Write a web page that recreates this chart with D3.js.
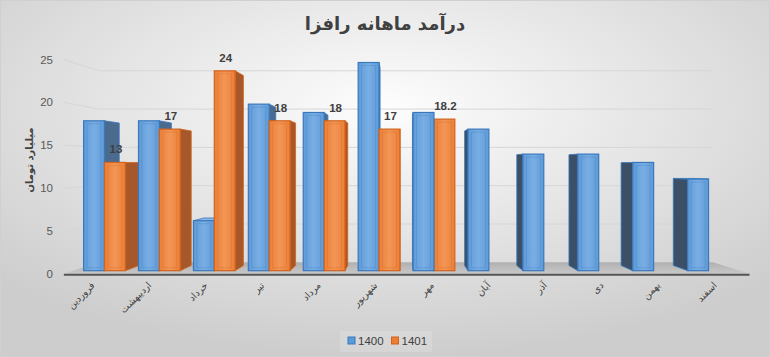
<!DOCTYPE html>
<html><head><meta charset="utf-8">
<script src="https://cdn.jsdelivr.net/npm/d3@7/dist/d3.min.js"></script>
<style>html,body{margin:0;padding:0;background:#fff}svg{display:block}</style>
</head><body>
<svg id="c" width="770" height="357"></svg>
<script>
const months = ["فروردین","اردیبهشت","خرداد","تیر","مرداد","شهریور","مهر","آبان","آذر","دی","بهمن","اسفند"];
const series = ["1400","1401"];
const values1400 = [18,18,6,20,19,25,19,17,14,14,13,11];
const values1401 = [13,17,24,18,18,17,18.2,null,null,null,null,null];
const yTicks = [0,5,10,15,20,25];
const title = "درآمد ماهانه رافزا";
const yTitle = "میلیارد تومان";

const W=770,H=357;
const svg=d3.select("#c");
const defs=svg.append("defs");
const rg=defs.append("radialGradient").attr("id","bg").attr("cx","50%").attr("cy","30%").attr("r","70%");
rg.append("stop").attr("offset","0%").attr("stop-color","#fdfdfd");
rg.append("stop").attr("offset","100%").attr("stop-color","#cdcdcd");
function lg(id,c1,c2){const g=defs.append("linearGradient").attr("id",id).attr("x1","0").attr("x2","1").attr("y1","0").attr("y2","0");
 g.append("stop").attr("offset","0%").attr("stop-color",c1);g.append("stop").attr("offset","50%").attr("stop-color",c2);g.append("stop").attr("offset","100%").attr("stop-color",c1);}
lg("gb","#5f9bd8","#79aee4");
lg("go","#ec7f37","#f29656");
const fl=defs.append("linearGradient").attr("id","fl").attr("x1","0").attr("x2","0").attr("y1","0").attr("y2","1");
fl.append("stop").attr("offset","0%").attr("stop-color","#b0b0b0");fl.append("stop").attr("offset","100%").attr("stop-color","#c8c8c8");

svg.append("rect").attr("x",0.5).attr("y",0.5).attr("width",W-1).attr("height",H-1).attr("fill","url(#bg)").attr("stroke","#d0d0d0");

// scales (front plane of bars)
const x=d3.scaleBand().domain(months).range([77,736]).paddingInner(0.24).paddingOuter(0.12);
const xs=d3.scaleBand().domain(series).range([0,x.bandwidth()]);
const y=d3.scaleLinear().domain([0,25]).range([270.7,62.5]);
const VX=400,VY=166;
const P=(px,py,s)=>[VX+(px-VX)*s,VY+(py-VY)*s];
const S_FRONT=1.028,S_BACK=0.92,S_BAR=0.95;
const XL=73,XR=740;

// floor
const f=[P(XL,y(0),S_BACK),P(XR,y(0),S_BACK),P(XR,y(0),S_FRONT),P(XL,y(0),S_FRONT)];
svg.append("polygon").attr("points",f.map(p=>p.join(",")).join(" ")).attr("fill","url(#fl)");
svg.append("line").attr("x1",f[3][0]).attr("x2",f[2][0]).attr("y1",f[3][1]+1).attr("y2",f[2][1]+1).attr("stroke","#555").attr("stroke-width",2);

// gridlines
const grid=svg.append("g");
yTicks.filter(t=>t>0).forEach(t=>{
  const a=P(XL,y(t),S_FRONT),b=P(XL,y(t),S_BACK),c=P(XR,y(t),S_BACK);
  grid.append("polyline").attr("points",[a,b,c].map(p=>p.join(",")).join(" ")).attr("fill","none").attr("stroke","#d6d6d6").attr("stroke-width",1);
});
// tick labels
svg.append("g").selectAll("text").data(yTicks).join("text")
 .attr("x",53).attr("y",t=>P(XL,y(t),S_FRONT)[1]).attr("dy","0.35em").attr("text-anchor","end")
 .attr("font-family","Liberation Sans, Arial, sans-serif").attr("font-size",11.5).attr("fill","#595959").text(t=>t);

// bars
const bars=[];
months.forEach((m,i)=>{
  series.forEach((s,j)=>{
    const v=(j===0?values1400:values1401)[i];
    if(v==null) return;
    bars.push({m,s,v,x0:x(m)+xs(s),x1:x(m)+xs(s)+xs.bandwidth(),y0:y(0),y1:y(v)});
  });
});
const left=bars.filter(b=>b.x1<=VX+15).sort((a,b)=>a.x0-b.x0);
const right=bars.filter(b=>b.x1>VX+15).sort((a,b)=>b.x0-a.x0);
const col={ "1400":{front:"url(#gb)",stroke:"#3a78bd",side:"#4b6b8e",sideL:"#3b5067",top:"#8ab9e8"},
            "1401":{front:"url(#go)",stroke:"#d2631c",side:"#a6582b",sideL:"#8c4a22",top:"#f6ae7c"}};
const gBars=svg.append("g");
function poly(g,pts,fill,stroke){g.append("polygon").attr("points",pts.map(p=>p.join(",")).join(" ")).attr("fill",fill).attr("stroke",stroke||"none").attr("stroke-width",0.8);}
[...left,...right].forEach(b=>{
  const c=col[b.s];
  const g=gBars.append("g");
  // side face
  if(b.x1<VX){
    const pts=[[b.x1,b.y1],P(b.x1,b.y1,S_BAR),P(b.x1,b.y0,S_BAR),[b.x1,b.y0]];
    poly(g,pts,c.side,c.stroke);
  } else if(b.x0>VX){
    const pts=[[b.x0,b.y1],P(b.x0,b.y1,S_BAR),P(b.x0,b.y0,S_BAR),[b.x0,b.y0]];
    poly(g,pts,c.sideL,c.stroke);
  }
  // top face
  if(b.y1>VY){
    const pts=[[b.x0,b.y1],[b.x1,b.y1],P(b.x1,b.y1,S_BAR),P(b.x0,b.y1,S_BAR)];
    poly(g,pts,c.top,c.stroke);
  }
  g.append("rect").attr("x",b.x0).attr("y",b.y1).attr("width",b.x1-b.x0).attr("height",b.y0-b.y1)
   .attr("fill",c.front).attr("stroke",c.stroke).attr("stroke-width",1.2);
  g.append("rect").attr("x",b.x0+3.5).attr("y",b.y1+3).attr("width",b.x1-b.x0-7).attr("height",Math.max(0,b.y0-b.y1-6))
   .attr("fill","none").attr("stroke",c.stroke).attr("stroke-opacity",0.35).attr("stroke-width",0.8);
});

// data labels (1401)
const fmt=v=>Number.isInteger(v)?String(v):v.toFixed(1);
svg.append("g").selectAll("text").data(bars.filter(b=>b.s==="1401")).join("text")
 .attr("x",b=>(b.x0+b.x1)/2+1).attr("y",b=>b.y1-9).attr("text-anchor","middle")
 .attr("font-family","Liberation Sans, Arial, sans-serif").attr("font-size",11.5).attr("font-weight","bold").attr("fill","#404040")
 .text(b=>fmt(b.v));

// x labels
svg.append("g").selectAll("text").data(months).join("text")
 .attr("transform",m=>{const cx=x(m)+x.bandwidth()/2;const lx=cx+(cx-380)*0.03-1;return `translate(${lx},286) rotate(-45)`;})
 .attr("text-anchor","end").attr("font-family","DejaVu Sans, sans-serif").attr("font-size",9.5).attr("fill","#404040").text(m=>m);

// title
svg.append("text").attr("x",385).attr("y",30).attr("text-anchor","middle").attr("font-family","DejaVu Sans, sans-serif")
 .attr("font-size",18).attr("font-weight","bold").attr("fill","#404040").text(title);
// y title
svg.append("text").attr("transform","translate(33,160) rotate(-90)").attr("text-anchor","middle").attr("font-family","DejaVu Sans, sans-serif")
 .attr("font-size",10).attr("font-weight","bold").attr("fill","#404040").text(yTitle);

// legend
const lgG=svg.append("g");
lgG.append("rect").attr("x",340).attr("y",331).attr("width",92).attr("height",21).attr("fill","#ffffff").attr("fill-opacity",0.15);
const lcols={"1400":["#5b9bd5","#3a78bd"],"1401":["#ed7d31","#d2631c"]};
series.forEach((s,i)=>{
  const lx=348+i*43.5;
  lgG.append("rect").attr("x",lx).attr("y",337).attr("width",7).attr("height",7).attr("fill",lcols[s][0]).attr("stroke",lcols[s][1]);
  lgG.append("text").attr("x",lx+10).attr("y",345).attr("font-family","Liberation Sans, Arial, sans-serif").attr("font-size",11.5).attr("fill","#404040").text(s);
});
</script>
</body></html>
